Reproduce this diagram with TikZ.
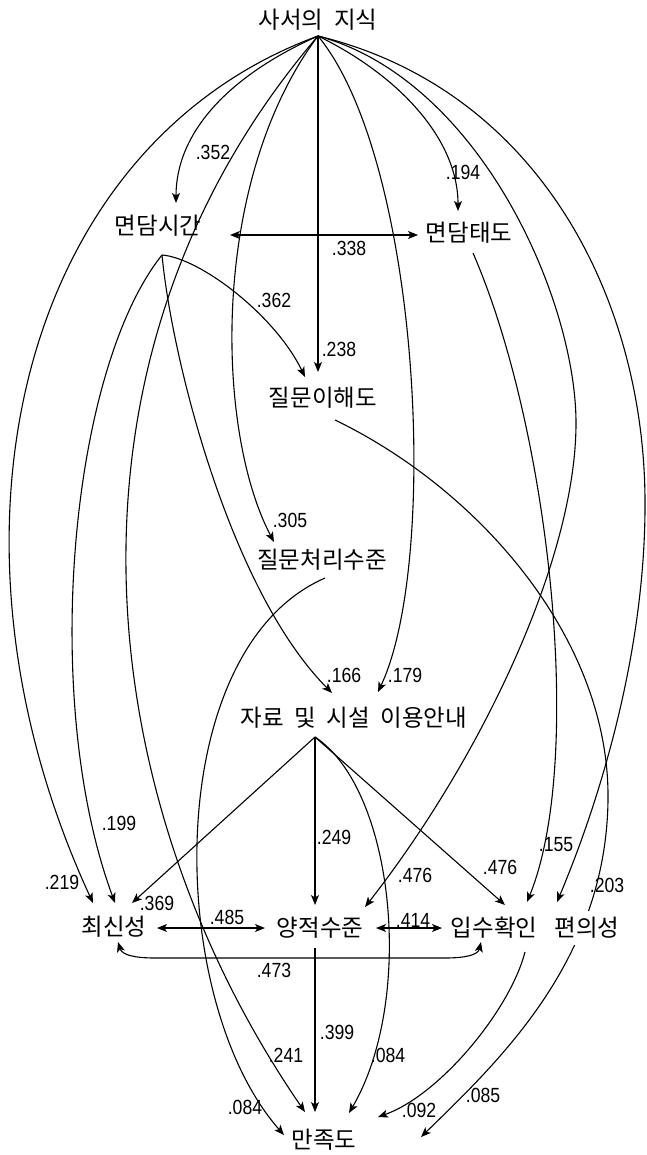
\documentclass[tikz,border=0pt]{standalone}
\usepackage{fontspec}
\setmainfont{Noto Sans CJK KR}
\newfontfamily\numf[FakeStretch=0.86]{Liberation Sans}
\usetikzlibrary{arrows.meta}
\pgfdeclarelayer{bg}
\pgfsetlayers{bg,main}
\begin{document}
\begin{tikzpicture}[x=1pt,y=-1pt,
  lbl/.style={font=\fontsize{23.5}{26}\selectfont, inner sep=1pt},
  num/.style={font=\numf\fontsize{20.5}{23}\selectfont, inner sep=0pt},
  edge/.style={line width=1.1pt},
  arr/.style={edge, -{Stealth[length=10pt,width=8pt,inset=2.5pt]}},
  darr/.style={edge, {Stealth[length=10pt,width=8pt,inset=2.5pt]}-{Stealth[length=10pt,width=8pt,inset=2.5pt]}}]
\useasboundingbox (0,0) rectangle (647,1155);
% text nodes
\node[lbl] (jisik) at (318,20) {사서의\hspace{.45em}지식};
\node[lbl] (sigan) at (158,226) {면담시간};
\node[lbl] (taedo) at (469,233) {면담태도};
\node[lbl] (ihae) at (323,398) {질문이해도};
\node[lbl] (cheori) at (322,560) {질문처리수준};
\node[lbl] (jaryo) at (354,718) {자료\hspace{.45em}및\hspace{.45em}시설\hspace{.45em}이용안내};
\node[lbl] (choesin) at (114,927) {최신성};
\node[lbl] (yang) at (320,928) {양적수준};
\node[lbl] (ipsu) at (494,928) {입수확인};
\node[lbl, fill=white, inner ysep=6pt] (pyeon) at (587,928) {편의성};
\node[lbl] (manjok) at (324,1140) {만족도};
% ports
\coordinate (src) at (318,36);
\coordinate (sigP) at (162,255);
\coordinate (taeP) at (473,253);
\coordinate (ihaeP) at (335,420);
\coordinate (cheP) at (325,578);
\coordinate (jarP) at (315,737);
\coordinate (yangP) at (315,948);
\coordinate (ipsuP) at (525,952);
% arrow tips
\coordinate (t352) at (176,203);
\coordinate (t194) at (458,211);
\coordinate (t338L) at (230,235);
\coordinate (t338R) at (418,235);
\coordinate (t362) at (305,377);
\coordinate (t238) at (318,372);
\coordinate (t305) at (274,542);
\coordinate (t166) at (332,693);
\coordinate (t179) at (378,692);
\coordinate (t219) at (93,903);
\coordinate (t199) at (115,903);
\coordinate (t369) at (132,903);
\coordinate (t249) at (315,905);
\coordinate (t476a) at (505,905);
\coordinate (t476b) at (365,907);
\coordinate (t155) at (527,902);
\coordinate (tPy) at (557,902);
\coordinate (t485L) at (157,928);
\coordinate (t485R) at (265,928);
\coordinate (t414L) at (376,928);
\coordinate (t414R) at (442,928);
\coordinate (t473L) at (118,942);
\coordinate (t473R) at (481,942);
\coordinate (t399) at (315,1112);
\coordinate (t241) at (305,1112);
\coordinate (t084r) at (349,1113);
\coordinate (t084l) at (284,1135);
\coordinate (t092) at (378,1117);
\coordinate (t085) at (421,1137);
% labels
\node[num] (l352) at (213,152) {.352};
\node[num] (l194) at (463,172) {.194};
\node[num] (l338) at (349,248) {.338};
\node[num] (l362) at (274,300) {.362};
\node[num] (l238) at (339,349) {.238};
\node[num] (l305) at (290,520) {.305};
\node[num] (l166) at (344,675) {.166};
\node[num] (l179) at (405,675) {.179};
\node[num] (l199) at (119,823) {.199};
\node[num] (l249) at (334,837) {.249};
\node[num] (l155) at (556,845) {.155};
\node[num] (l476a) at (500,867) {.476};
\node[num] (l476b) at (415,875) {.476};
\node[num] (l203) at (607,885) {.203};
\node[num] (l219) at (62,882) {.219};
\node[num] (l369) at (157,903) {.369};
\node[num] (l485) at (227,917) {.485};
\node[num] (l414) at (413,920) {.414};
\node[num] (l473) at (274,970) {.473};
\node[num] (l399) at (337,1032) {.399};
\node[num] (l241) at (286,1055) {.241};
\node[num] (l084r) at (388,1055) {.084};
\node[num] (l085) at (483,1095) {.085};
\node[num] (l084l) at (245,1107) {.084};
\node[num] (l092) at (419,1110) {.092};
\begin{pgfonlayer}{bg}
% from 사서의 지식
\draw[arr] (src) .. controls (18,146) and (-75,539) .. (t219);
\draw[arr] (src) .. controls (228,76) and (176,133) .. (t352);
\draw[arr] (src) .. controls (40,360) and (90,800) .. (t241);
\draw[arr] (src) .. controls (210,180) and (215,430) .. (t305);
\draw[arr] (src) -- (t238);
\draw[arr] (src) .. controls (420,160) and (440,560) .. (t179);
\draw[arr] (src) .. controls (400,76) and (458,140) .. (t194);
\draw[arr] (src) .. controls (480,80) and (576,300) .. (576,423) .. controls (576,560) and (480,760) .. (t476b);
\draw[arr] (src) .. controls (540,90) and (644,300) .. (645,500) .. controls (646,650) and (600,800) .. (tPy);
% from 면담시간 / 면담태도
\draw[arr] (sigP) .. controls (70,370) and (40,700) .. (t199);
\draw[arr] (sigP) .. controls (172,360) and (230,590) .. (t166);
\draw[arr] (sigP) .. controls (200,258) and (275,315) .. (t362);
\draw[arr] (taeP) .. controls (550,430) and (585,760) .. (t155);
\draw[darr] (t338L) -- (t338R);
% from 질문이해도, 질문처리수준
\draw[arr] (ihaeP) .. controls (480,490) and (610,640) .. (608,800) .. controls (606,960) and (500,1060) .. (t085);
\draw[arr] (cheP) .. controls (160,650) and (165,1000) .. (t084l);
% from 자료 및 시설 이용안내
\draw[arr] (jarP) -- (t369);
\draw[arr] (jarP) -- (t249);
\draw[arr] (jarP) -- (t476a);
\draw[arr] (jarP) .. controls (395,790) and (415,1000) .. (t084r);
% bottom row
\draw[darr] (t485L) -- (t485R);
\draw[darr] (t414L) -- (t414R);
\draw[darr] (t473L) .. controls (122,955) and (135,958) .. (155,958) -- (445,958) .. controls (465,958) and (478,955) .. (t473R);
\draw[arr] (yangP) -- (t399);
\draw[arr] (ipsuP) .. controls (510,1010) and (440,1095) .. (t092);
\end{pgfonlayer}
\end{tikzpicture}
\end{document}
